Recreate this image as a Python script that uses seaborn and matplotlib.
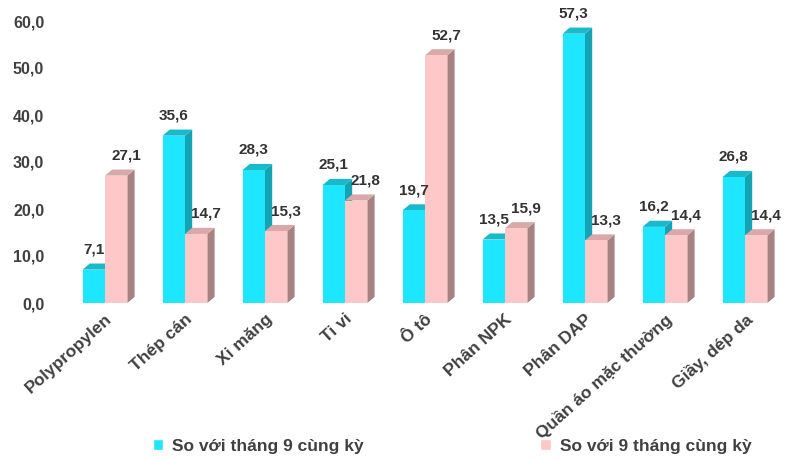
import matplotlib
matplotlib.use("Agg")
import matplotlib.pyplot as plt
import matplotlib.transforms as mtransforms
import seaborn as sns
import pandas as pd
from matplotlib.patches import Polygon, Patch

categories = ["Polypropylen", "Thép cán", "Xi măng", "Ti vi", "Ô tô",
              "Phân NPK", "Phân DAP", "Quần áo mặc thường", "Giầy, dép da"]
series_names = ["So với tháng 9 cùng kỳ", "So với 9 tháng cùng kỳ"]
vals_month = [7.1, 35.6, 28.3, 25.1, 19.7, 13.5, 57.3, 16.2, 26.8]
vals_9month = [27.1, 14.7, 15.3, 21.8, 52.7, 15.9, 13.3, 14.4, 14.4]
yticks = [0, 10, 20, 30, 40, 50, 60]

front = ["#1EE6FF", "#FFC8C8"]
side = ["#14A3B3", "#A88282"]
top = ["#17B9CB", "#D9A8A8"]

df = pd.DataFrame({
    "cat": categories * 2,
    "series": [series_names[0]] * len(categories) + [series_names[1]] * len(categories),
    "val": vals_month + vals_9month,
})

sns.set_theme(style="white")
plt.rcParams["font.family"] = ["Liberation Sans", "DejaVu Sans"]

fig = plt.figure(figsize=(7.9, 4.59), dpi=100)
ax = fig.add_axes([65 / 790, 1 - 303 / 459, 720 / 790, (303 - 21) / 459])

sns.barplot(data=df, x="cat", y="val", hue="series", order=categories,
            hue_order=series_names, palette=front, width=0.56, ax=ax,
            legend=False, saturation=1, edgecolor="none", linewidth=0)

ax.set_ylim(0, 60)
ax.set_xlim(-0.5, len(categories) - 0.5)

dx = 0.09
dy = 1.3
for i, cont in enumerate(ax.containers):
    vals = vals_month if i == 0 else vals_9month
    for bar, v in zip(cont.patches, vals):
        bar.set_zorder(3)
        x0 = bar.get_x()
        w = bar.get_width()
        h = bar.get_height()
        x1 = x0 + w
        ax.add_patch(Polygon([(x1, 0), (x1 + dx, dy), (x1 + dx, h + dy), (x1, h)],
                             closed=True, facecolor=side[i], edgecolor="none",
                             clip_on=False, zorder=2))
        ax.add_patch(Polygon([(x0, h), (x0 + dx, h + dy), (x1 + dx, h + dy), (x1, h)],
                             closed=True, facecolor=top[i], edgecolor="none",
                             clip_on=False, zorder=2))
        xoff = 0 if i == 0 else 7
        ax.annotate(f"{v:.1f}".replace(".", ","), (x0 + w / 2, h + dy),
                    xytext=(xoff, 5), textcoords="offset points",
                    ha="center", va="bottom", fontsize=11, fontweight="bold",
                    color="#333333", annotation_clip=False, zorder=5)

ax.set_yticks(yticks)
ax.set_yticklabels([f"{t:.1f}".replace(".", ",") for t in yticks],
                   fontsize=11.5, fontweight="bold", color="#404040")
ax.set_xticks(range(len(categories)))
ax.set_xticklabels(categories, rotation=42, ha="right", rotation_mode="anchor",
                   fontsize=12.5, fontweight="bold", color="#404040")
shift = mtransforms.ScaledTranslation(-11 / 100, 0, fig.dpi_scale_trans)
for lbl in ax.get_xticklabels():
    lbl.set_transform(lbl.get_transform() + shift)
ax.tick_params(axis="both", length=0)
ax.tick_params(axis="y", pad=15)
ax.tick_params(axis="x", pad=6)
ax.set_xlabel("")
ax.set_ylabel("")
for s in ax.spines.values():
    s.set_visible(False)
ax.grid(False)

handles = [Patch(facecolor=front[0]), Patch(facecolor=front[1])]
fig.legend(handles, series_names, loc="center", bbox_to_anchor=(0.572, 1 - 446 / 459),
           ncol=2, frameon=False, handlelength=0.6, handleheight=0.6,
           handletextpad=0.5, columnspacing=10.2,
           prop={"size": 12.5, "weight": "bold"}, labelcolor="#404040")

fig.savefig("out.png", dpi=100)
